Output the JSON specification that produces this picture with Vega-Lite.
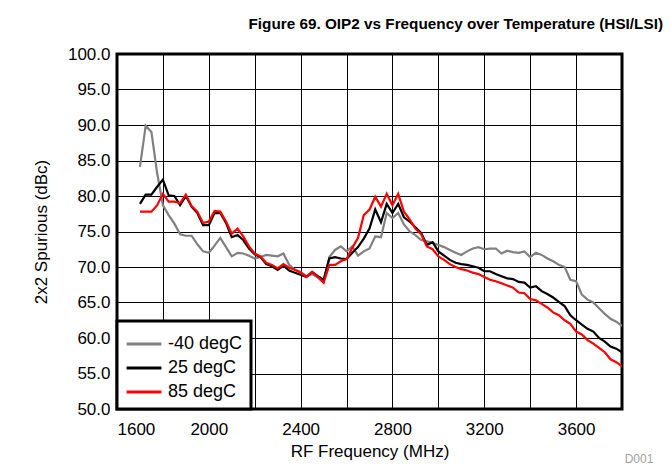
{
  "$schema": "https://vega.github.io/schema/vega-lite/v6.json",
  "width": 505,
  "height": 355,
  "autosize": {"type": "none"},
  "padding": {"left": 117, "top": 54, "right": 49, "bottom": 62},
  "background": "white",
  "title": {
    "text": "Figure 69. OIP2 vs Frequency over Temperature (HSI/LSI)",
    "anchor": "end",
    "frame": "group",
    "font": "Liberation Sans",
    "fontSize": 15.3,
    "fontWeight": "bold",
    "color": "#000",
    "dx": 41,
    "offset": 13
  },
  "config": {
    "view": {"stroke": "#000", "strokeWidth": 3},
    "axis": {
      "domain": false,
      "ticks": false,
      "grid": true,
      "gridColor": "#000",
      "gridWidth": 1,
      "labelOverlap": false,
      "labelFont": "Liberation Sans",
      "labelFontSize": 17,
      "labelColor": "#000",
      "titleFont": "Liberation Sans",
      "titleFontSize": 17,
      "titleFontWeight": "normal",
      "titleColor": "#000"
    },
    "legend": {
      "orient": "bottom-left",
      "offset": 0,
      "fillColor": "#fff",
      "strokeColor": "#000",
      "strokeWidth": 3,
      "padding": 8,
      "symbolType": "M-1.3,0H1.3",
      "symbolSize": 720,
      "symbolStrokeWidth": 3,
      "symbolOffset": 4,
      "labelFont": "Liberation Sans",
      "labelFontSize": 18,
      "labelColor": "#000",
      "labelOffset": 9,
      "rowPadding": 0
    }
  },
  "layer": [
    {
      "data": {"values": [
        {"f":1700,"t":"-40 degC","v":84.1},{"f":1725,"t":"-40 degC","v":89.9},{"f":1750,"t":"-40 degC","v":89.0},{"f":1775,"t":"-40 degC","v":83.2},{"f":1800,"t":"-40 degC","v":78.7},{"f":1825,"t":"-40 degC","v":77.3},{"f":1850,"t":"-40 degC","v":76.1},{"f":1875,"t":"-40 degC","v":74.6},{"f":1900,"t":"-40 degC","v":74.4},{"f":1925,"t":"-40 degC","v":74.4},{"f":1950,"t":"-40 degC","v":73.2},{"f":1975,"t":"-40 degC","v":72.2},{"f":2000,"t":"-40 degC","v":72.0},{"f":2025,"t":"-40 degC","v":73.0},{"f":2050,"t":"-40 degC","v":74.1},{"f":2075,"t":"-40 degC","v":72.8},{"f":2100,"t":"-40 degC","v":71.5},{"f":2125,"t":"-40 degC","v":72.0},{"f":2150,"t":"-40 degC","v":71.9},{"f":2175,"t":"-40 degC","v":71.6},{"f":2200,"t":"-40 degC","v":71.2},{"f":2225,"t":"-40 degC","v":71.4},{"f":2250,"t":"-40 degC","v":71.7},{"f":2275,"t":"-40 degC","v":71.6},{"f":2300,"t":"-40 degC","v":71.5},{"f":2325,"t":"-40 degC","v":71.9},{"f":2350,"t":"-40 degC","v":70.3},{"f":2375,"t":"-40 degC","v":69.6},{"f":2400,"t":"-40 degC","v":69.3},{"f":2425,"t":"-40 degC","v":68.7},{"f":2450,"t":"-40 degC","v":69.0},{"f":2475,"t":"-40 degC","v":68.5},{"f":2500,"t":"-40 degC","v":67.9},{"f":2525,"t":"-40 degC","v":71.4},{"f":2550,"t":"-40 degC","v":72.4},{"f":2575,"t":"-40 degC","v":72.9},{"f":2600,"t":"-40 degC","v":72.2},{"f":2625,"t":"-40 degC","v":72.9},{"f":2650,"t":"-40 degC","v":71.6},{"f":2675,"t":"-40 degC","v":72.2},{"f":2700,"t":"-40 degC","v":72.6},{"f":2725,"t":"-40 degC","v":74.3},{"f":2750,"t":"-40 degC","v":74.2},{"f":2775,"t":"-40 degC","v":77.6},{"f":2800,"t":"-40 degC","v":76.9},{"f":2825,"t":"-40 degC","v":77.6},{"f":2850,"t":"-40 degC","v":76.0},{"f":2875,"t":"-40 degC","v":75.0},{"f":2900,"t":"-40 degC","v":74.5},{"f":2925,"t":"-40 degC","v":73.8},{"f":2950,"t":"-40 degC","v":73.6},{"f":2975,"t":"-40 degC","v":73.4},{"f":3000,"t":"-40 degC","v":73.1},{"f":3025,"t":"-40 degC","v":72.8},{"f":3050,"t":"-40 degC","v":72.4},{"f":3075,"t":"-40 degC","v":72.0},{"f":3100,"t":"-40 degC","v":71.7},{"f":3125,"t":"-40 degC","v":72.2},{"f":3150,"t":"-40 degC","v":72.6},{"f":3175,"t":"-40 degC","v":72.8},{"f":3200,"t":"-40 degC","v":72.5},{"f":3225,"t":"-40 degC","v":72.6},{"f":3250,"t":"-40 degC","v":72.6},{"f":3275,"t":"-40 degC","v":71.9},{"f":3300,"t":"-40 degC","v":72.3},{"f":3325,"t":"-40 degC","v":72.1},{"f":3350,"t":"-40 degC","v":72.0},{"f":3375,"t":"-40 degC","v":72.2},{"f":3400,"t":"-40 degC","v":71.4},{"f":3425,"t":"-40 degC","v":72.0},{"f":3450,"t":"-40 degC","v":71.7},{"f":3475,"t":"-40 degC","v":71.2},{"f":3500,"t":"-40 degC","v":70.8},{"f":3525,"t":"-40 degC","v":70.3},{"f":3550,"t":"-40 degC","v":70.0},{"f":3575,"t":"-40 degC","v":68.2},{"f":3600,"t":"-40 degC","v":68.0},{"f":3625,"t":"-40 degC","v":66.1},{"f":3650,"t":"-40 degC","v":65.4},{"f":3675,"t":"-40 degC","v":65.0},{"f":3700,"t":"-40 degC","v":64.2},{"f":3725,"t":"-40 degC","v":63.4},{"f":3750,"t":"-40 degC","v":62.7},{"f":3775,"t":"-40 degC","v":62.3},{"f":3800,"t":"-40 degC","v":61.7},
        {"f":1700,"t":"25 degC","v":78.9},{"f":1725,"t":"25 degC","v":80.2},{"f":1750,"t":"25 degC","v":80.2},{"f":1775,"t":"25 degC","v":81.3},{"f":1800,"t":"25 degC","v":82.3},{"f":1825,"t":"25 degC","v":80.1},{"f":1850,"t":"25 degC","v":80.0},{"f":1875,"t":"25 degC","v":78.7},{"f":1900,"t":"25 degC","v":80.0},{"f":1925,"t":"25 degC","v":78.5},{"f":1950,"t":"25 degC","v":77.6},{"f":1975,"t":"25 degC","v":75.9},{"f":2000,"t":"25 degC","v":75.9},{"f":2025,"t":"25 degC","v":77.6},{"f":2050,"t":"25 degC","v":77.6},{"f":2075,"t":"25 degC","v":76.2},{"f":2100,"t":"25 degC","v":74.2},{"f":2125,"t":"25 degC","v":74.5},{"f":2150,"t":"25 degC","v":73.8},{"f":2175,"t":"25 degC","v":72.6},{"f":2200,"t":"25 degC","v":71.8},{"f":2225,"t":"25 degC","v":71.4},{"f":2250,"t":"25 degC","v":70.4},{"f":2275,"t":"25 degC","v":70.1},{"f":2300,"t":"25 degC","v":69.6},{"f":2325,"t":"25 degC","v":70.2},{"f":2350,"t":"25 degC","v":69.5},{"f":2375,"t":"25 degC","v":69.2},{"f":2400,"t":"25 degC","v":68.9},{"f":2425,"t":"25 degC","v":68.6},{"f":2450,"t":"25 degC","v":69.3},{"f":2475,"t":"25 degC","v":68.7},{"f":2500,"t":"25 degC","v":68.2},{"f":2525,"t":"25 degC","v":71.2},{"f":2550,"t":"25 degC","v":71.4},{"f":2575,"t":"25 degC","v":71.2},{"f":2600,"t":"25 degC","v":71.1},{"f":2625,"t":"25 degC","v":72.0},{"f":2650,"t":"25 degC","v":72.8},{"f":2675,"t":"25 degC","v":74.0},{"f":2700,"t":"25 degC","v":75.4},{"f":2725,"t":"25 degC","v":78.1},{"f":2750,"t":"25 degC","v":76.3},{"f":2775,"t":"25 degC","v":78.9},{"f":2800,"t":"25 degC","v":77.6},{"f":2825,"t":"25 degC","v":78.9},{"f":2850,"t":"25 degC","v":77.0},{"f":2875,"t":"25 degC","v":76.4},{"f":2900,"t":"25 degC","v":75.6},{"f":2925,"t":"25 degC","v":74.8},{"f":2950,"t":"25 degC","v":73.1},{"f":2975,"t":"25 degC","v":73.5},{"f":3000,"t":"25 degC","v":72.2},{"f":3025,"t":"25 degC","v":71.6},{"f":3050,"t":"25 degC","v":71.0},{"f":3075,"t":"25 degC","v":70.6},{"f":3100,"t":"25 degC","v":70.4},{"f":3125,"t":"25 degC","v":70.3},{"f":3150,"t":"25 degC","v":70.1},{"f":3175,"t":"25 degC","v":69.9},{"f":3200,"t":"25 degC","v":69.4},{"f":3225,"t":"25 degC","v":69.4},{"f":3250,"t":"25 degC","v":69.0},{"f":3275,"t":"25 degC","v":68.7},{"f":3300,"t":"25 degC","v":68.4},{"f":3325,"t":"25 degC","v":68.3},{"f":3350,"t":"25 degC","v":67.9},{"f":3375,"t":"25 degC","v":67.8},{"f":3400,"t":"25 degC","v":67.1},{"f":3425,"t":"25 degC","v":67.3},{"f":3450,"t":"25 degC","v":66.6},{"f":3475,"t":"25 degC","v":66.2},{"f":3500,"t":"25 degC","v":65.7},{"f":3525,"t":"25 degC","v":65.1},{"f":3550,"t":"25 degC","v":64.5},{"f":3575,"t":"25 degC","v":63.2},{"f":3600,"t":"25 degC","v":62.5},{"f":3625,"t":"25 degC","v":61.9},{"f":3650,"t":"25 degC","v":61.3},{"f":3675,"t":"25 degC","v":60.9},{"f":3700,"t":"25 degC","v":60.0},{"f":3725,"t":"25 degC","v":59.5},{"f":3750,"t":"25 degC","v":58.8},{"f":3775,"t":"25 degC","v":58.5},{"f":3800,"t":"25 degC","v":58.0},
        {"f":1700,"t":"85 degC","v":77.8},{"f":1725,"t":"85 degC","v":77.8},{"f":1750,"t":"85 degC","v":77.8},{"f":1775,"t":"85 degC","v":78.7},{"f":1800,"t":"85 degC","v":80.3},{"f":1825,"t":"85 degC","v":79.2},{"f":1850,"t":"85 degC","v":79.2},{"f":1875,"t":"85 degC","v":79.0},{"f":1900,"t":"85 degC","v":80.2},{"f":1925,"t":"85 degC","v":78.6},{"f":1950,"t":"85 degC","v":77.8},{"f":1975,"t":"85 degC","v":76.2},{"f":2000,"t":"85 degC","v":76.4},{"f":2025,"t":"85 degC","v":77.9},{"f":2050,"t":"85 degC","v":77.8},{"f":2075,"t":"85 degC","v":76.4},{"f":2100,"t":"85 degC","v":74.7},{"f":2125,"t":"85 degC","v":75.4},{"f":2150,"t":"85 degC","v":74.3},{"f":2175,"t":"85 degC","v":72.9},{"f":2200,"t":"85 degC","v":71.9},{"f":2225,"t":"85 degC","v":71.5},{"f":2250,"t":"85 degC","v":70.6},{"f":2275,"t":"85 degC","v":70.3},{"f":2300,"t":"85 degC","v":69.8},{"f":2325,"t":"85 degC","v":70.4},{"f":2350,"t":"85 degC","v":69.9},{"f":2375,"t":"85 degC","v":69.6},{"f":2400,"t":"85 degC","v":69.2},{"f":2425,"t":"85 degC","v":68.6},{"f":2450,"t":"85 degC","v":69.3},{"f":2475,"t":"85 degC","v":68.6},{"f":2500,"t":"85 degC","v":67.8},{"f":2525,"t":"85 degC","v":70.3},{"f":2550,"t":"85 degC","v":70.3},{"f":2575,"t":"85 degC","v":70.8},{"f":2600,"t":"85 degC","v":71.1},{"f":2625,"t":"85 degC","v":72.7},{"f":2650,"t":"85 degC","v":74.1},{"f":2675,"t":"85 degC","v":77.3},{"f":2700,"t":"85 degC","v":78.1},{"f":2725,"t":"85 degC","v":79.9},{"f":2750,"t":"85 degC","v":78.5},{"f":2775,"t":"85 degC","v":80.3},{"f":2800,"t":"85 degC","v":78.7},{"f":2825,"t":"85 degC","v":80.3},{"f":2850,"t":"85 degC","v":77.8},{"f":2875,"t":"85 degC","v":76.7},{"f":2900,"t":"85 degC","v":75.4},{"f":2925,"t":"85 degC","v":74.6},{"f":2950,"t":"85 degC","v":72.9},{"f":2975,"t":"85 degC","v":72.5},{"f":3000,"t":"85 degC","v":71.5},{"f":3025,"t":"85 degC","v":71.0},{"f":3050,"t":"85 degC","v":70.4},{"f":3075,"t":"85 degC","v":70.0},{"f":3100,"t":"85 degC","v":69.7},{"f":3125,"t":"85 degC","v":69.5},{"f":3150,"t":"85 degC","v":69.2},{"f":3175,"t":"85 degC","v":69.0},{"f":3200,"t":"85 degC","v":68.6},{"f":3225,"t":"85 degC","v":68.2},{"f":3250,"t":"85 degC","v":68.0},{"f":3275,"t":"85 degC","v":67.7},{"f":3300,"t":"85 degC","v":67.4},{"f":3325,"t":"85 degC","v":67.1},{"f":3350,"t":"85 degC","v":66.4},{"f":3375,"t":"85 degC","v":66.3},{"f":3400,"t":"85 degC","v":65.5},{"f":3425,"t":"85 degC","v":65.3},{"f":3450,"t":"85 degC","v":64.8},{"f":3475,"t":"85 degC","v":64.3},{"f":3500,"t":"85 degC","v":63.6},{"f":3525,"t":"85 degC","v":63.2},{"f":3550,"t":"85 degC","v":62.5},{"f":3575,"t":"85 degC","v":62.0},{"f":3600,"t":"85 degC","v":60.9},{"f":3625,"t":"85 degC","v":60.5},{"f":3650,"t":"85 degC","v":59.7},{"f":3675,"t":"85 degC","v":59.2},{"f":3700,"t":"85 degC","v":58.6},{"f":3725,"t":"85 degC","v":58.0},{"f":3750,"t":"85 degC","v":57.0},{"f":3775,"t":"85 degC","v":56.6},{"f":3800,"t":"85 degC","v":56.0}
      ]},
      "mark": {"type": "line", "strokeWidth": 2.2, "clip": true},
      "encoding": {
        "x": {
          "field": "f", "type": "quantitative",
          "scale": {"domain": [1600, 3800], "nice": false, "zero": false},
          "axis": {
            "title": "RF Frequency (MHz)",
            "values": [1600, 1800, 2000, 2200, 2400, 2600, 2800, 3000, 3200, 3400, 3600, 3800],
            "tickCount": 30,
            "format": "d",
            "labelOverlap": false,
            "labelExpr": "datum.value % 400 == 0 ? datum.label : ''",
            "labelPadding": 12,
            "titlePadding": 6
          }
        },
        "y": {
          "field": "v", "type": "quantitative",
          "scale": {"domain": [50, 100], "nice": false, "zero": false},
          "axis": {
            "title": "2x2 Spurious (dBc)",
            "values": [50, 55, 60, 65, 70, 75, 80, 85, 90, 95, 100],
            "tickCount": 30,
            "format": ".1f",
            "labelOverlap": false,
            "labelPadding": 7,
            "titlePadding": 17
          }
        },
        "color": {
          "field": "t", "type": "nominal",
          "scale": {"domain": ["-40 degC", "25 degC", "85 degC"], "range": ["#808080", "#000000", "#ff0000"]},
          "legend": {"title": null}
        }
      }
    },
    {
      "data": {"values": [{"note": "D001"}]},
      "mark": {"type": "text", "font": "Liberation Sans", "fontSize": 12, "color": "#a0a0a0", "dx": 17, "dy": 50},
      "encoding": {
        "x": {"datum": 3800, "type": "quantitative"},
        "y": {"datum": 50, "type": "quantitative"},
        "text": {"field": "note"}
      }
    }
  ]
}
